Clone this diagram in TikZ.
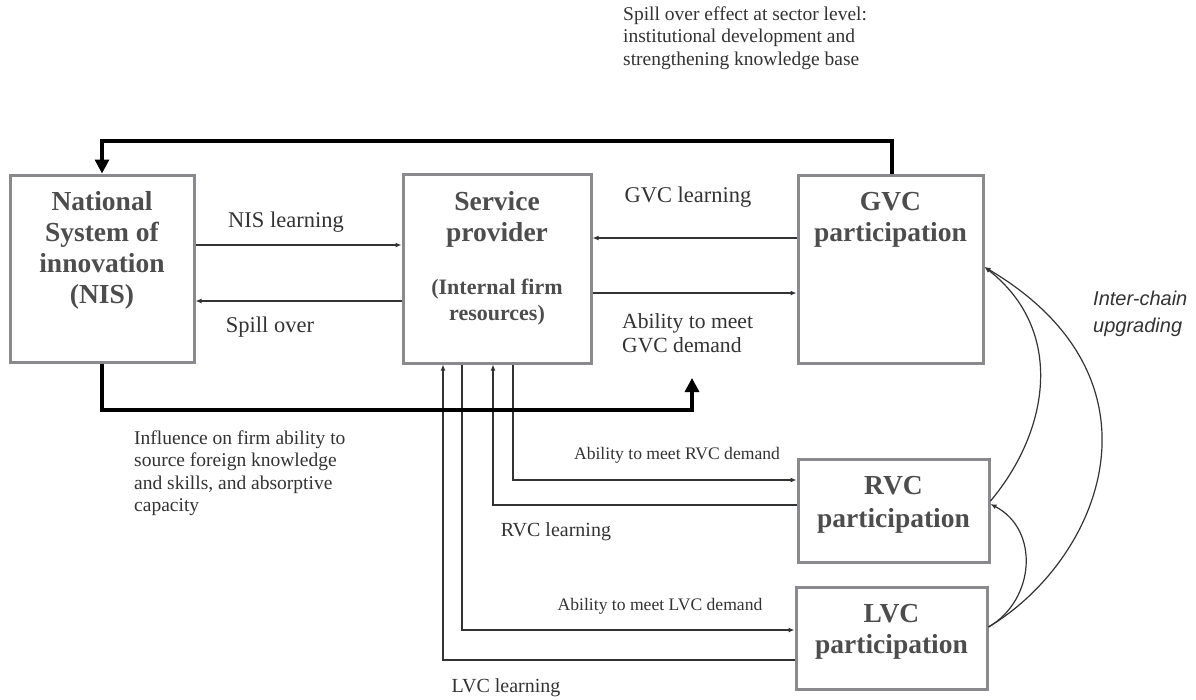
\documentclass[tikz,border=0pt]{standalone}
\usepackage{fontspec}
\setmainfont{Liberation Serif}
\newfontfamily\labsans{Liberation Sans}
\usetikzlibrary{arrows.meta}
\definecolor{boxgray}{HTML}{8A8A8E}
\definecolor{boxtxt}{HTML}{4D4D4D}
\definecolor{linegray}{HTML}{333333}
\definecolor{txtgray}{HTML}{333333}
\tikzset{
  box/.style={draw=boxgray,line width=3pt,fill=none,inner sep=0pt},
  boxtext/.style={text=boxtxt,align=center,font=\fontsize{27.5}{31}\selectfont\bfseries,inner sep=0pt},
  subtext/.style={text=boxtxt,align=center,font=\fontsize{22}{26}\selectfont\bfseries,inner sep=0pt},
  conn/.style={draw=linegray,line width=1.2pt,-{Latex[length=6pt,width=5pt]}},
  thick conn/.style={draw=black,line width=3.2pt,-{Triangle[length=14pt,width=14pt]}},
  midlab/.style={text=txtgray,font=\fontsize{22.5}{24}\selectfont,inner sep=0pt},
  learnlab/.style={text=txtgray,font=\fontsize{20}{22}\selectfont,inner sep=0pt},
  smalllab/.style={text=txtgray,font=\fontsize{17.6}{20}\selectfont,inner sep=0pt},
  notelab/.style={text=txtgray,align=left,font=\fontsize{19.5}{22.5}\selectfont,inner sep=0pt},
  sanslab/.style={text=txtgray,align=left,font=\labsans\itshape\fontsize{20}{27}\selectfont,inner sep=0pt}
}
\begin{document}
\begin{tikzpicture}[x=1pt,y=-1pt]
\useasboundingbox (0,0) rectangle (1196,699);
% boxes
\node[box,minimum width=184pt,minimum height=187pt] (nis) at (102,268.5) {};
\node[box,minimum width=188pt,minimum height=189pt] (sp) at (497,268.5) {};
\node[box,minimum width=185pt,minimum height=188pt] (gvc) at (890.5,269) {};
\node[box,minimum width=191pt,minimum height=103pt] (rvc) at (893.5,510.5) {};
\node[box,minimum width=191pt,minimum height=102pt] (lvc) at (891.5,638) {};
% box texts
\node[boxtext] (nist) at (102,250) {National\\System of\\innovation\\(NIS)};
\node[boxtext] (spt) at (497,219) {Service\\provider};
\node[subtext] (sps) at (497,302) {(Internal firm\\resources)};
\node[boxtext] (gvct) at (890.5,220) {GVC\\participation};
\node[boxtext,font=\fontsize{27.5}{33}\selectfont\bfseries] (rvct) at (893.5,505) {RVC\\participation};
\node[boxtext] (lvct) at (891.5,631.5) {LVC\\participation};
% horizontal connectors
\draw[conn] (nis.east |- 0,245) -- (sp.west |- 0,245);
\draw[conn] (sp.west |- 0,301) -- (nis.east |- 0,301);
\draw[conn] (gvc.west |- 0,238) -- (sp.east |- 0,238);
\draw[conn] (sp.east |- 0,293) -- (gvc.west |- 0,293);
% RVC / LVC connectors
\draw[conn] (sp.south -| 513,0) |- (rvc.west |- 0,480);
\draw[conn] (rvc.west |- 0,505) -| (sp.south -| 493,0);
\draw[conn] (sp.south -| 462,0) |- (lvc.west |- 0,630);
\draw[conn] (lvc.west |- 0,660) -| (sp.south -| 443,0);
% thick feedback lines
\coordinate (topr) at (892,141);
\coordinate (topl) at (102,141);
\draw[thick conn] (gvc.north -| topr) -- (topr) -- (topl) -- (nis.north);
\coordinate (botl) at (102,410);
\coordinate (botr) at (692,410);
\coordinate (bottip) at (692,378);
\draw[thick conn] (nis.south) -- (botl) -- (botr) -- (bottip);
% inter-chain curves
\draw[conn] (rvc.east |- 0,501) .. controls (1050,430) and (1065,330) .. (gvc.east |- 0,267);
\draw[conn] (lvc.east |- 0,627) .. controls (1100,560) and (1175,380) .. (gvc.east |- 0,267);
\draw[conn] (lvc.east |- 0,627) .. controls (1035,600) and (1040,530) .. (rvc.east |- 0,504);
% labels
\node[midlab] (l1) at (286,222) {NIS learning};
\node[midlab] (l2) at (270,327) {Spill over};
\node[midlab] (l3) at (688,197) {GVC learning};
\node[midlab,align=left,anchor=west,font=\fontsize{21.6}{24}\selectfont] (l4) at (622,333) {Ability to meet\\GVC demand};
\node[smalllab] (l5) at (677,455) {Ability to meet RVC demand};
\node[learnlab] (l6) at (556,532) {RVC learning};
\node[smalllab] (l7) at (660,606) {Ability to meet LVC demand};
\node[learnlab] (l8) at (506,688) {LVC learning};
\node[notelab,anchor=west] (l9) at (134,473) {Influence on firm ability to\\source foreign knowledge\\and skills, and absorptive\\capacity};
\node[notelab,anchor=west] (l10) at (623,38) {Spill over effect at sector level:\\institutional development and\\strengthening knowledge base};
\node[sanslab,anchor=west] (l11) at (1093,314) {Inter-chain\\upgrading};
\end{tikzpicture}
\end{document}
